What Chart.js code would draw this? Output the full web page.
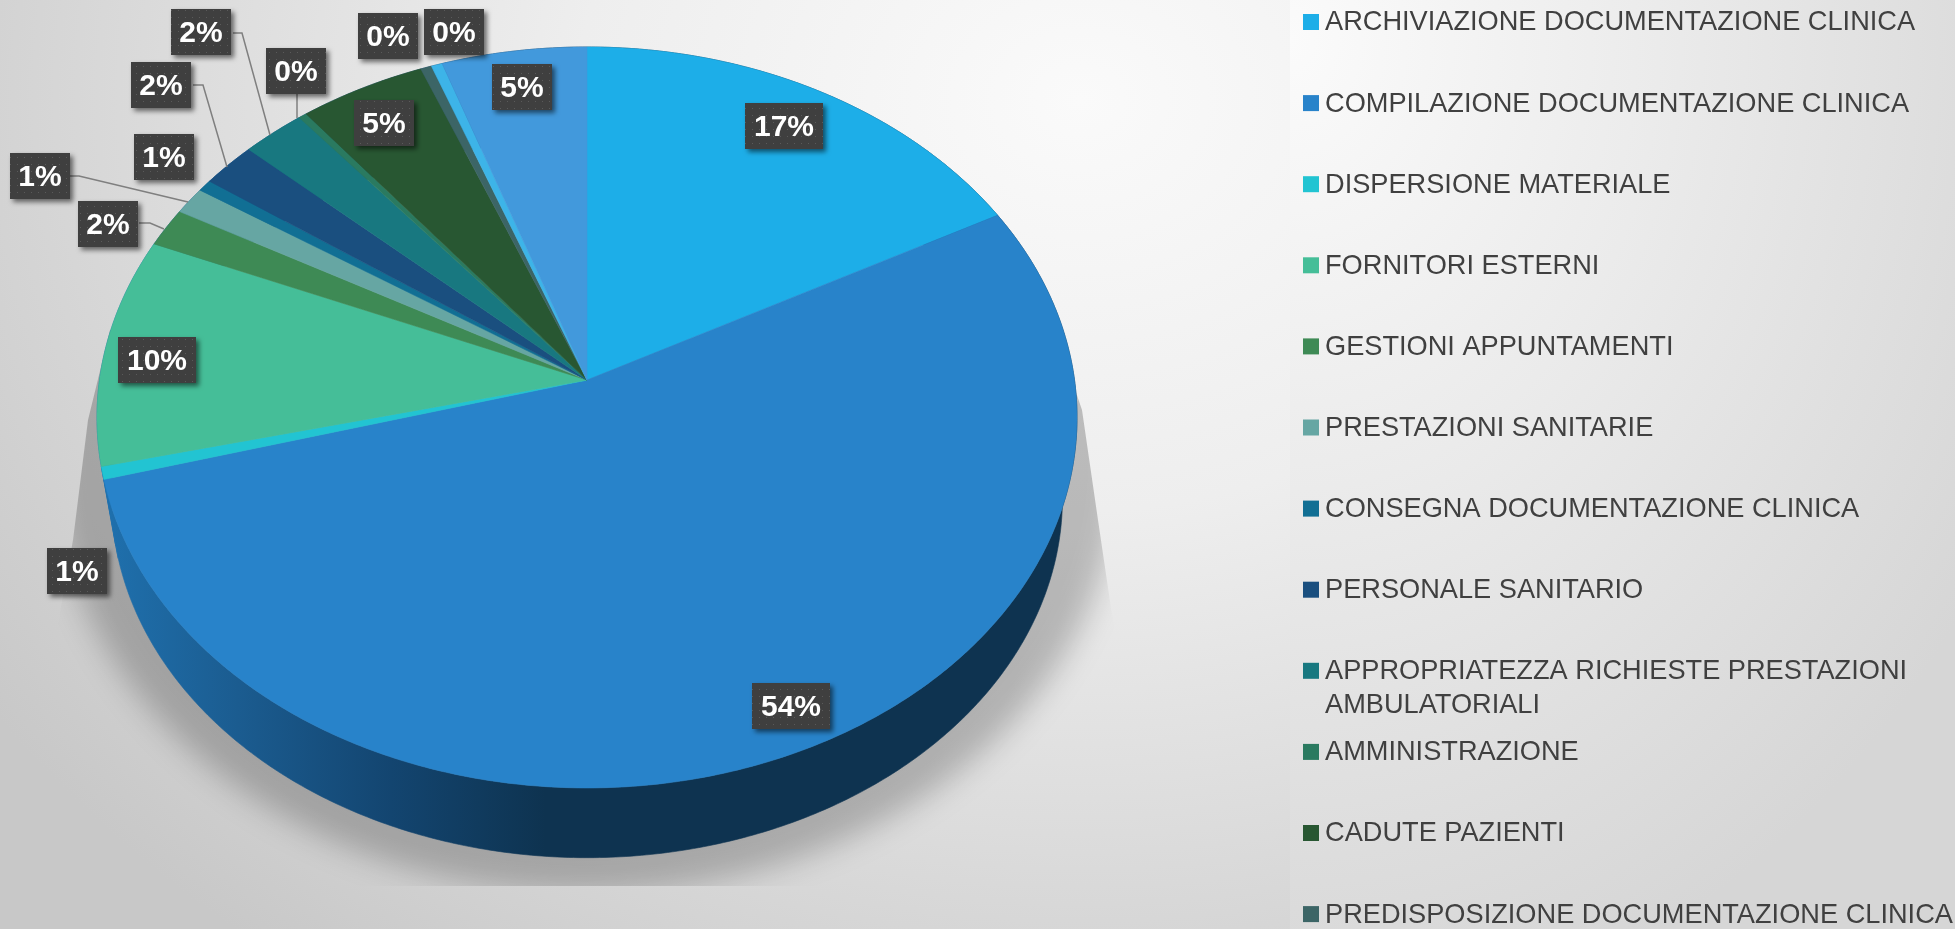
<!DOCTYPE html>
<html>
<head>
<meta charset="utf-8">
<style>
  html, body { margin: 0; padding: 0; width: 1955px; height: 929px; overflow: hidden; }
  body {
    background:
      radial-gradient(ellipse 820px 1000px at 0px 40px, #fbfbfb 0%, #ebebeb 45%, #d6d6d6 100%) 1290px 0 / 665px 100% no-repeat,
      radial-gradient(ellipse 1320px 1080px at 1080px 100px, #fafafa 0%, #eeeeee 38%, #dcdcdc 68%, #c8c8c8 100%) 0 0 / 1290px 100% no-repeat;
  }
  canvas { display: block; }
</style>
</head>
<body>
<canvas id="pieChart" width="1955" height="929"></canvas>
<script src="https://cdn.jsdelivr.net/npm/chart.js@4"></script>
<script>
// the last two slices have no readable name, the legend is cut off by the slide edge
const categories = [
  "ARCHIVIAZIONE DOCUMENTAZIONE CLINICA",
  "COMPILAZIONE DOCUMENTAZIONE CLINICA",
  "DISPERSIONE MATERIALE",
  "FORNITORI ESTERNI",
  "GESTIONI APPUNTAMENTI",
  "PRESTAZIONI SANITARIE",
  "CONSEGNA DOCUMENTAZIONE CLINICA",
  "PERSONALE SANITARIO",
  "APPROPRIATEZZA RICHIESTE PRESTAZIONI AMBULATORIALI",
  "AMMINISTRAZIONE",
  "CADUTE PAZIENTI",
  "PREDISPOSIZIONE DOCUMENTAZIONE CLINICA",
  "",
  ""
];
const values = [17.2, 53.55, 0.55, 10.0, 1.7, 1.2, 0.52, 2.0, 2.3, 0.3, 4.6, 0.4, 0.4, 5.28];
const sliceColors = [
  "#1daee8", "#2883ca", "#22c4d2", "#45be98", "#3e8a55", "#66a6a3", "#116f94",
  "#1a4f7f", "#187880", "#2a7a60", "#285732", "#3c6566", "#3db4e8", "#4299dc"
];

// label box centres, placed by hand like in the slide
const labelBoxes = [
  [784, 126], [791, 706], [77, 571], [157, 360], [108, 224], [40, 176], [164, 157],
  [161, 85], [201, 32], [296, 71], [384, 123], [388, 36], [454, 32], [522, 87]
];
const leaderLines = {
  4: [[139, 223], [150, 223], [164, 229]],
  5: [[70, 176], [79, 176], [188, 202]],
  7: [[193, 85], [203, 85], [227, 167]],
  8: [[233, 33], [242, 33], [270, 135]],
  9: [[297, 94], [297, 118]]
};

// tilted disc: projective mapping of the unit circle
const disc = { cx: 587, cy: 380, a: 487.5, b: 366.7, p: 0.1011 };
const base = { cx: 587, cy: 462, a: 473, b: 355.7, p: 0.1011 };

function project(d, angle) {
  const u = Math.cos(angle), v = Math.sin(angle);
  const w = 1 - d.p * v;
  return [d.cx + d.a * u / w, d.cy + d.b * v / w];
}

function rimPoints(d, start, end) {
  const steps = Math.max(2, Math.ceil((end - start) / 0.01));
  const pts = [];
  for (let i = 0; i <= steps; i++) pts.push(project(d, start + (end - start) * i / steps));
  return pts;
}

function fillPath(ctx, pts, color) {
  ctx.beginPath();
  pts.forEach((p, i) => i ? ctx.lineTo(p[0], p[1]) : ctx.moveTo(p[0], p[1]));
  ctx.closePath();
  ctx.fillStyle = color;
  ctx.strokeStyle = color;
  ctx.lineWidth = 0.6;
  ctx.fill();
  ctx.stroke();
}

const tiltedPie = {
  id: "tiltedPie",
  beforeDatasetsDraw(chart) {
    const ctx = chart.ctx;
    const arcs = chart.getDatasetMeta(0).data;

    // ground shadow, cut straight at the bottom
    ctx.save();
    ctx.beginPath();
    ctx.moveTo(110, 330);
    ctx.lineTo(88, 420);
    ctx.lineTo(73, 540);
    ctx.lineTo(10, 886);
    ctx.lineTo(1170, 886);
    ctx.lineTo(1111, 608);
    ctx.lineTo(1098, 520);
    ctx.lineTo(1082, 410);
    ctx.lineTo(1060, 345);
    ctx.closePath();
    ctx.clip();
    ctx.filter = "blur(15px)";
    ctx.beginPath();
    ctx.ellipse(587, 462, 533, 431, 0, 0, Math.PI * 2);
    ctx.fillStyle = "rgba(0,0,0,0.22)";
    ctx.fill();
    ctx.restore();

    // side wall
    const wall = ctx.createLinearGradient(106, 0, 545, 0);
    wall.addColorStop(0, "#1f70ad");
    wall.addColorStop(0.3, "#1b5c90");
    wall.addColorStop(0.65, "#134570");
    wall.addColorStop(1, "#0e3350");
    arcs.forEach(arc => {
      const top = rimPoints(disc, arc.startAngle, arc.endAngle);
      const low = rimPoints(base, arc.startAngle, arc.endAngle).reverse();
      fillPath(ctx, top.concat(low), wall);
    });

    // top face, angles come from the pie controller
    arcs.forEach((arc, i) => {
      const pts = rimPoints(disc, arc.startAngle, arc.endAngle);
      pts.push([disc.cx, disc.cy]);
      fillPath(ctx, pts, sliceColors[i]);
    });
    return false;
  },
  afterDraw(chart) {
    const ctx = chart.ctx;
    const total = values.reduce((s, v) => s + v, 0);

    ctx.save();
    ctx.strokeStyle = "#7f7f7f";
    ctx.lineWidth = 1.5;
    Object.values(leaderLines).forEach(line => {
      ctx.beginPath();
      line.forEach((p, i) => i ? ctx.lineTo(p[0], p[1]) : ctx.moveTo(p[0], p[1]));
      ctx.stroke();
    });
    ctx.restore();

    // dotted label fill
    const tile = document.createElement("canvas");
    tile.width = tile.height = 7;
    const t = tile.getContext("2d");
    t.fillStyle = "#3f3f3f";
    t.fillRect(0, 0, 7, 7);
    t.fillStyle = "#5a5a5a";
    t.fillRect(3, 3, 1, 1);
    const dots = ctx.createPattern(tile, "repeat");

    values.forEach((v, i) => {
      const text = Math.round(v / total * 100) + "%";
      const [x, y] = labelBoxes[i];
      const w = text.length > 2 ? 78 : 60;
      ctx.save();
      ctx.shadowColor = "rgba(0,0,0,0.55)";
      ctx.shadowBlur = 5;
      ctx.shadowOffsetX = 3;
      ctx.shadowOffsetY = 3;
      ctx.fillStyle = dots;
      ctx.fillRect(x - w / 2, y - 23, w, 46);
      ctx.restore();
      ctx.fillStyle = "#ffffff";
      ctx.font = "bold 30px 'Liberation Sans'";
      ctx.textAlign = "center";
      ctx.textBaseline = "middle";
      ctx.fillText(text, x, y + 2);
    });

    drawLegend(ctx);
  }
};

function drawLegend(ctx) {
  ctx.save();
  ctx.font = "27.2px 'Liberation Sans'";
  ctx.textAlign = "left";
  ctx.textBaseline = "middle";
  categories.forEach((name, i) => {
    if (!name) return;
    const y = 22 + i * 81.1;
    ctx.fillStyle = sliceColors[i];
    ctx.fillRect(1303, y - 8, 16, 16);
    ctx.fillStyle = "#404040";
    if (i === 8) {
      ctx.fillText("APPROPRIATEZZA RICHIESTE PRESTAZIONI", 1325, y + 1);
      ctx.fillText("AMBULATORIALI", 1325, y + 35);
    } else {
      ctx.fillText(name, 1325, y + 1);
    }
  });
  ctx.restore();
}

new Chart(document.getElementById("pieChart"), {
  type: "pie",
  data: {
    labels: categories,
    datasets: [{ data: values, backgroundColor: sliceColors, borderWidth: 0 }]
  },
  options: {
    responsive: false,
    animation: false,
    plugins: { legend: { display: false }, tooltip: { enabled: false } }
  },
  plugins: [tiltedPie]
});
</script>
</body>
</html>
